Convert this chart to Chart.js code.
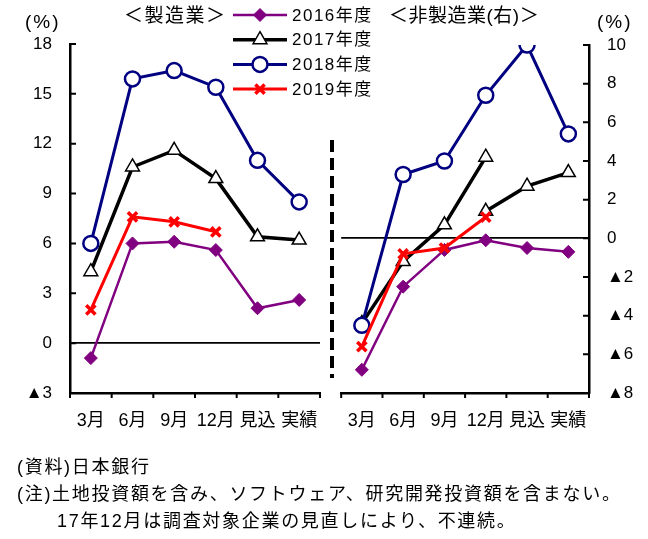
<!DOCTYPE html>
<html>
<head>
<meta charset="utf-8">
<script src="https://cdn.jsdelivr.net/npm/chart.js@4.4.1/dist/chart.umd.min.js"></script>
<style>
  body { margin: 0; background: #fff; }
  #wrap { position: relative; width: 648px; height: 539px; overflow: hidden;
    font-family: "Liberation Sans", "Noto Sans CJK JP", sans-serif; color: #000; }
  canvas { position: absolute; top: 0; }
  .t { position: absolute; white-space: nowrap; line-height: 1; }
</style>
</head>
<body>
<div id="wrap">
  <canvas id="mfg" width="648" height="539" style="left:0"></canvas>
  <canvas id="nonmfg" width="318" height="539" style="left:330px"></canvas>

  <div class="t" style="left:25px;top:12px;font-size:19px;letter-spacing:2px">(%)</div>
  <div class="t" style="left:124px;top:6px;font-size:19px;letter-spacing:1.5px">＜製造業＞</div>
  <div class="t" style="left:389px;top:6px;font-size:19px;letter-spacing:0.5px">＜非製造業(右)＞</div>
  <div class="t" style="left:597px;top:12px;font-size:19px;letter-spacing:2px">(%)</div>

  <div class="t" style="left:17px;top:458px;font-size:18px;letter-spacing:1.7px">(資料)日本銀行</div>
  <div class="t" style="left:17px;top:485px;font-size:18px;letter-spacing:1.7px">(注)土地投資額を含み、ソフトウェア、研究開発投資額を含まない。</div>
  <div class="t" style="left:57px;top:512px;font-size:18px;letter-spacing:1.7px">17年12月は調査対象企業の見直しにより、不連続。</div>
</div>

<script>
// categories
const cats = ["3月", "6月", "9月", "12月", "見込", "実績"]
const yearLabels = ["2016年度", "2017年度", "2018年度", "2019年度"]

// manufacturing (left axis, %)
const mfg2016 = [-0.9, 6.0, 6.1, 5.6, 2.1, 2.6]
const mfg2017 = [4.3, 10.6, 11.6, 9.9, 6.4, 6.2]
const mfg2018 = [6.0, 15.9, 16.4, 15.4, 11.0, 8.5]
const mfg2019 = [2.0, 7.6, 7.3, 6.7, null, null]

// non-manufacturing (right axis, %)
const non2016 = [-6.8, -2.5, -0.6, -0.1, -0.5, -0.7]
const non2017old = [-4.4, -1.2, 0.7, 4.2, null, null]
const non2017new = [null, null, null, 1.4, 2.7, 3.4]
const non2018 = [-4.5, 3.3, 4.0, 7.4, 10.0, 5.4]
const non2019 = [-5.6, -0.8, -0.5, 1.1, null, null]

const leftTicks = { min: -3, max: 18, step: 3 }
const rightTicks = { min: -8, max: 10, step: 2 }

const styles = {
  y2016: { color: "#800080", pointStyle: "rectRot", radius: 6.5, bg: "#800080", line: 2.5, pb: 1, order: 4 },
  y2017: { color: "#000000", pointStyle: "triangle", radius: 8, bg: "#ffffff", line: 3.5, pb: 1.5, order: 3 },
  y2018: { color: "#000080", pointStyle: "circle", radius: 7.5, bg: "#ffffff", line: 3, pb: 2.5, order: 2 },
  y2019: { color: "#ff0000", pointStyle: "crossRot", radius: 6.5, bg: "#ff0000", line: 3, pb: 3.5, order: 1 },
}

const FONT = "'Liberation Sans', 'Noto Sans CJK JP', sans-serif"
const fmt = v => (v < 0 ? "▲" + (-v) : String(v))

function ds(label, data, s) {
  return {
    label, data,
    borderColor: s.color, backgroundColor: s.bg, borderWidth: s.line,
    pointStyle: s.pointStyle, pointRadius: s.radius, pointHoverRadius: s.radius,
    pointBorderColor: s.color, pointBackgroundColor: s.bg, pointBorderWidth: s.pb,
    tension: 0, spanGaps: false, order: s.order, _style: s,
  }
}

// short tick marks: y ticks inward, x ticks outward
const tickMarks = {
  id: "tickMarks",
  afterDraw(chart, args, opts) {
    const ctx = chart.ctx
    const x = chart.scales.x
    const y = chart.scales.y
    ctx.save()
    ctx.strokeStyle = "#000"
    ctx.lineWidth = 2
    ctx.beginPath()
    y.ticks.forEach(t => {
      const py = y.getPixelForValue(t.value)
      if (opts.side === "left") { ctx.moveTo(x.left, py); ctx.lineTo(x.left + 6, py) }
      else { ctx.moveTo(x.right - 6, py); ctx.lineTo(x.right, py) }
    })
    for (let i = 0; i <= cats.length; i++) {
      const px = x.getPixelForValue(i - 0.5)
      ctx.moveTo(px, y.bottom); ctx.lineTo(px, y.bottom + 5)
    }
    ctx.stroke()
    if (opts.dashed) {
      ctx.beginPath()
      ctx.lineWidth = 4
      ctx.setLineDash([12, 6])
      ctx.moveTo(2, 140); ctx.lineTo(2, 378)
      ctx.stroke()
    }
    ctx.restore()
  },
}

// legend: line + marker + label
const lineLegend = {
  id: "lineLegend",
  afterDraw(chart) {
    const ctx = chart.ctx
    ctx.save()
    chart.data.datasets.forEach((d, i) => {
      const s = d._style
      const cy = 15 + i * 24.7
      ctx.strokeStyle = s.color
      ctx.lineWidth = s.line
      ctx.setLineDash([])
      ctx.beginPath(); ctx.moveTo(233, cy); ctx.lineTo(287, cy); ctx.stroke()
      ctx.fillStyle = s.bg
      ctx.lineWidth = s.pb
      Chart.helpers.drawPoint(ctx, { pointStyle: s.pointStyle, radius: s.radius, rotation: 0, borderWidth: s.pb }, 260, cy)
      ctx.fillStyle = "#000"
      ctx.font = "17px " + FONT
      ctx.textBaseline = "middle"
      ctx.letterSpacing = "1.5px"
      ctx.fillText(d.label, 292, cy + 1)
    })
    ctx.restore()
  },
}

function axisOpts(t, position, labelPad, width) {
  return {
    x: {
      type: "category", offset: true,
      grid: { display: false, drawTicks: false },
      border: { display: true, color: "#000", width: 2.5 },
      ticks: { color: "#000", font: { size: 18, family: FONT }, padding: 17, maxRotation: 0, autoSkip: false },
      afterFit: s => { s.height = 539 - 393 },
    },
    y: {
      position, min: t.min, max: t.max,
      grid: {
        drawTicks: false,
        color: c => (c.tick && c.tick.value === 0 ? "#000" : "rgba(0,0,0,0)"),
        lineWidth: 1.8,
      },
      border: { display: true, color: "#000", width: 2.5 },
      ticks: { stepSize: t.step, color: "#000", font: { size: 17, family: FONT }, padding: labelPad, callback: fmt },
      afterFit: s => { s.width = width },
    },
  }
}

const common = {
  responsive: false,
  animation: false,
  events: [],
  plugins: { legend: { display: false }, tooltip: { enabled: false } },
}

new Chart(document.getElementById("mfg"), {
  type: "line",
  data: {
    labels: cats,
    datasets: [
      ds(yearLabels[0], mfg2016, styles.y2016),
      ds(yearLabels[1], mfg2017, styles.y2017),
      ds(yearLabels[2], mfg2018, styles.y2018),
      ds(yearLabels[3], mfg2019, styles.y2019),
    ],
  },
  options: {
    ...common,
    layout: { padding: { top: 44, right: 328, left: 0, bottom: 0 } },
    scales: axisOpts(leftTicks, "left", 18, 70),
    plugins: { ...common.plugins, tickMarks: { side: "left" } },
  },
  plugins: [tickMarks, lineLegend],
})

new Chart(document.getElementById("nonmfg"), {
  type: "line",
  data: {
    labels: cats,
    datasets: [
      ds(yearLabels[0], non2016, styles.y2016),
      ds(yearLabels[1], non2017old, styles.y2017),
      ds(yearLabels[1], non2017new, styles.y2017),
      ds(yearLabels[2], non2018, styles.y2018),
      ds(yearLabels[3], non2019, styles.y2019),
    ],
  },
  options: {
    ...common,
    layout: { padding: { top: 45, right: 0, left: 6, bottom: 0 } },
    scales: axisOpts(rightTicks, "right", 18, 59),
    plugins: { ...common.plugins, tickMarks: { side: "right", dashed: true } },
  },
  plugins: [tickMarks],
})
</script>
</body>
</html>
